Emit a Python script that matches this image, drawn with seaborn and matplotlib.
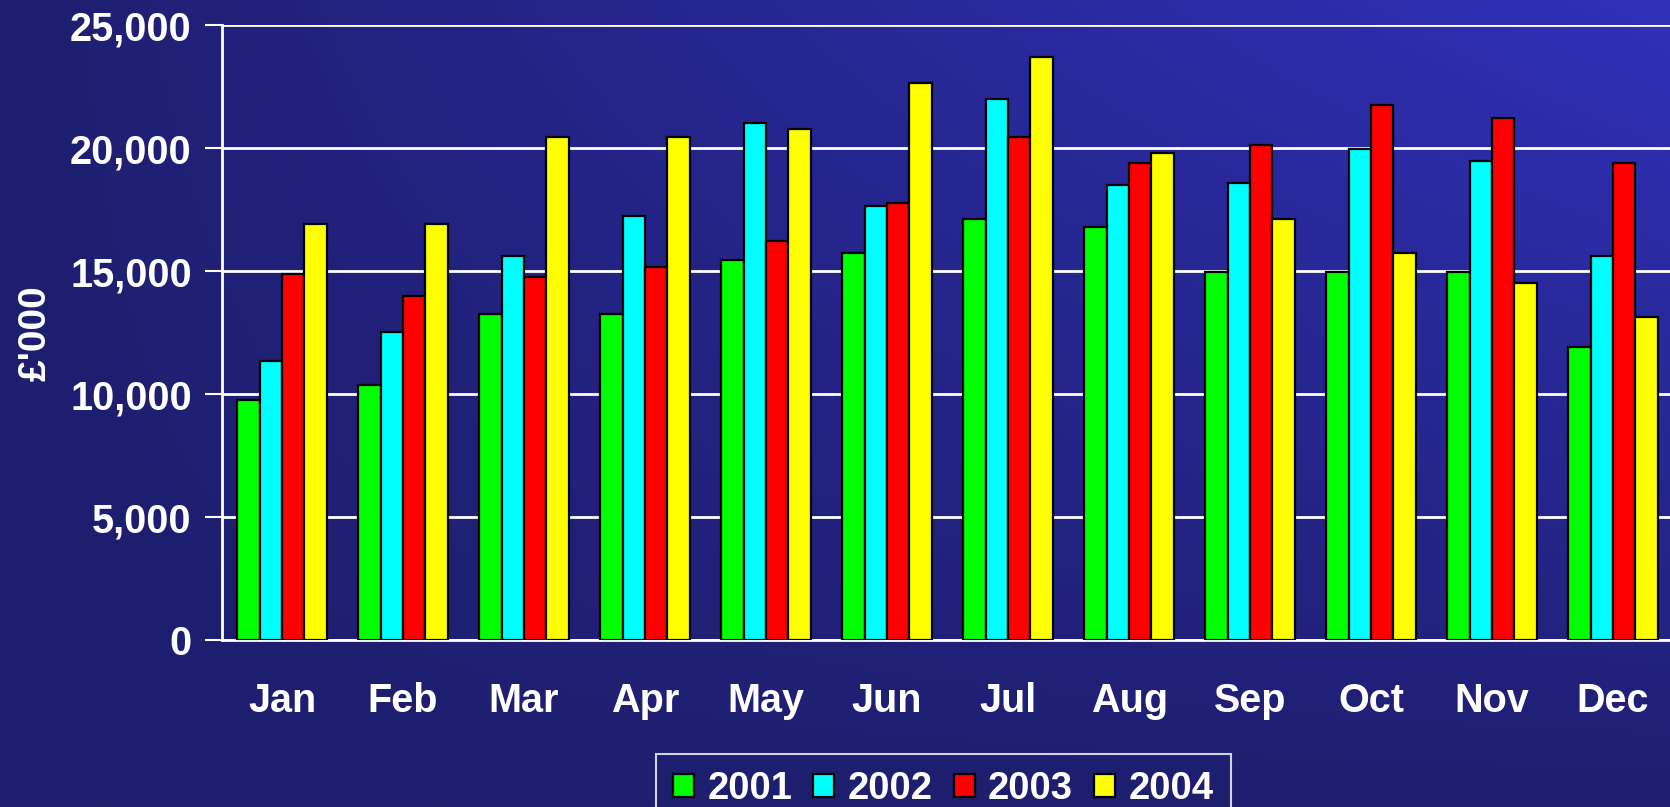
import numpy as np
import pandas as pd
import matplotlib
matplotlib.use("Agg")
import matplotlib.pyplot as plt
import seaborn as sns
from matplotlib.ticker import FuncFormatter, FixedLocator

months = ["Jan", "Feb", "Mar", "Apr", "May", "Jun", "Jul", "Aug", "Sep", "Oct", "Nov", "Dec"]
years = ["2001", "2002", "2003", "2004"]
v2001 = [9760, 10360, 13270, 13270, 15460, 15720, 17110, 16780, 14970, 14970, 14970, 11900]
v2002 = [11340, 12530, 15630, 17260, 21010, 17670, 21990, 18490, 18580, 19950, 19470, 15630]
v2003 = [14900, 14010, 14760, 15170, 16220, 17760, 20450, 19380, 20120, 21750, 21250, 19380]
v2004 = [16920, 16920, 20450, 20450, 20770, 22640, 23720, 19790, 17110, 15720, 14500, 13120]
colors = ["#00FF00", "#00FFFF", "#FF0000", "#FFFF00"]
yticks = [0, 5000, 10000, 15000, 20000, 25000]

df = pd.DataFrame({
    "Month": months * 4,
    "Year": [y for y in years for _ in months],
    "Value": v2001 + v2002 + v2003 + v2004,
})

sns.set_theme(style="white")
plt.rcParams["font.family"] = ["Liberation Sans", "DejaVu Sans"]
plt.rcParams["font.weight"] = "bold"

W, H = 1670, 807
fig = plt.figure(figsize=(W / 100, H / 100), dpi=100)

# gradient background
bg = fig.add_axes([0, 0, 1, 1], zorder=-10)
xx, yy = np.meshgrid(np.linspace(0, 1, 400), np.linspace(1, 0, 200))
t = np.clip(xx * yy, 0, 1) ** 0.9
c0 = np.array([30, 30, 110]) / 255.0
c1 = np.array([48, 48, 186]) / 255.0
img = c0[None, None, :] * (1 - t[..., None]) + c1[None, None, :] * t[..., None]
bg.imshow(img, aspect="auto", extent=[0, 1, 0, 1], interpolation="bilinear")
bg.set_axis_off()

left = 221.6 / W
bottom = (H - 640) / H
width = 12 * 121.0 / W
height = (640 - 25.3) / H
ax = fig.add_axes([left, bottom, width, height])
ax.patch.set_alpha(0)

sns.barplot(data=df, x="Month", y="Value", hue="Year", palette=colors,
            width=0.74, gap=0, edgecolor="black", linewidth=1.6,
            saturation=1, ax=ax, zorder=3)

ax.set_xlim(-0.5, 11.5)
ax.set_ylim(0, 25000)
ax.yaxis.set_major_locator(FixedLocator(yticks))
ax.yaxis.set_major_formatter(FuncFormatter(lambda v, p: f"{int(v):,}"))
ax.grid(axis="y", color="white", linewidth=2, zorder=0)
ax.set_axisbelow(True)

ax.set_xticks(np.arange(12))
ax.set_xticklabels(months)
ax.xaxis.set_minor_locator(FixedLocator(np.arange(-0.5, 12, 1)))
ax.tick_params(axis="x", which="major", length=0, pad=30, labelsize=28.5, labelcolor="white")
ax.tick_params(axis="x", which="minor", length=12, width=1.5, color="white", direction="out")
ax.tick_params(axis="y", length=12, width=1.5, color="white", direction="out",
               pad=9.5, labelsize=28.5, labelcolor="white", left=True)
for lab in ax.get_xticklabels() + ax.get_yticklabels():
    lab.set_fontweight("bold")

for s in ["top", "right"]:
    ax.spines[s].set_visible(False)
for s in ["left", "bottom"]:
    ax.spines[s].set_color("white")
    ax.spines[s].set_linewidth(2)

ax.set_xlabel("")
ax.set_ylabel("£'000", color="white", fontsize=28, fontweight="bold")
ax.yaxis.set_label_coords(-168 / (12 * 121.0), 0.5)

leg = ax.legend(loc="upper center", bbox_to_anchor=(0.497, -0.154), ncol=4,
                frameon=True, fontsize=27.5, handlelength=0.55, handleheight=0.55,
                handletextpad=0.35, columnspacing=0.55, borderpad=0.45,
                fancybox=False)
leg.get_frame().set_facecolor("none")
leg.get_frame().set_edgecolor("white")
leg.get_frame().set_linewidth(1.5)
for txt in leg.get_texts():
    txt.set_color("white")
    txt.set_fontweight("bold")
for h in leg.legend_handles:
    h.set_edgecolor("black")
    h.set_linewidth(1.6)

fig.savefig("out.png", dpi=100)
